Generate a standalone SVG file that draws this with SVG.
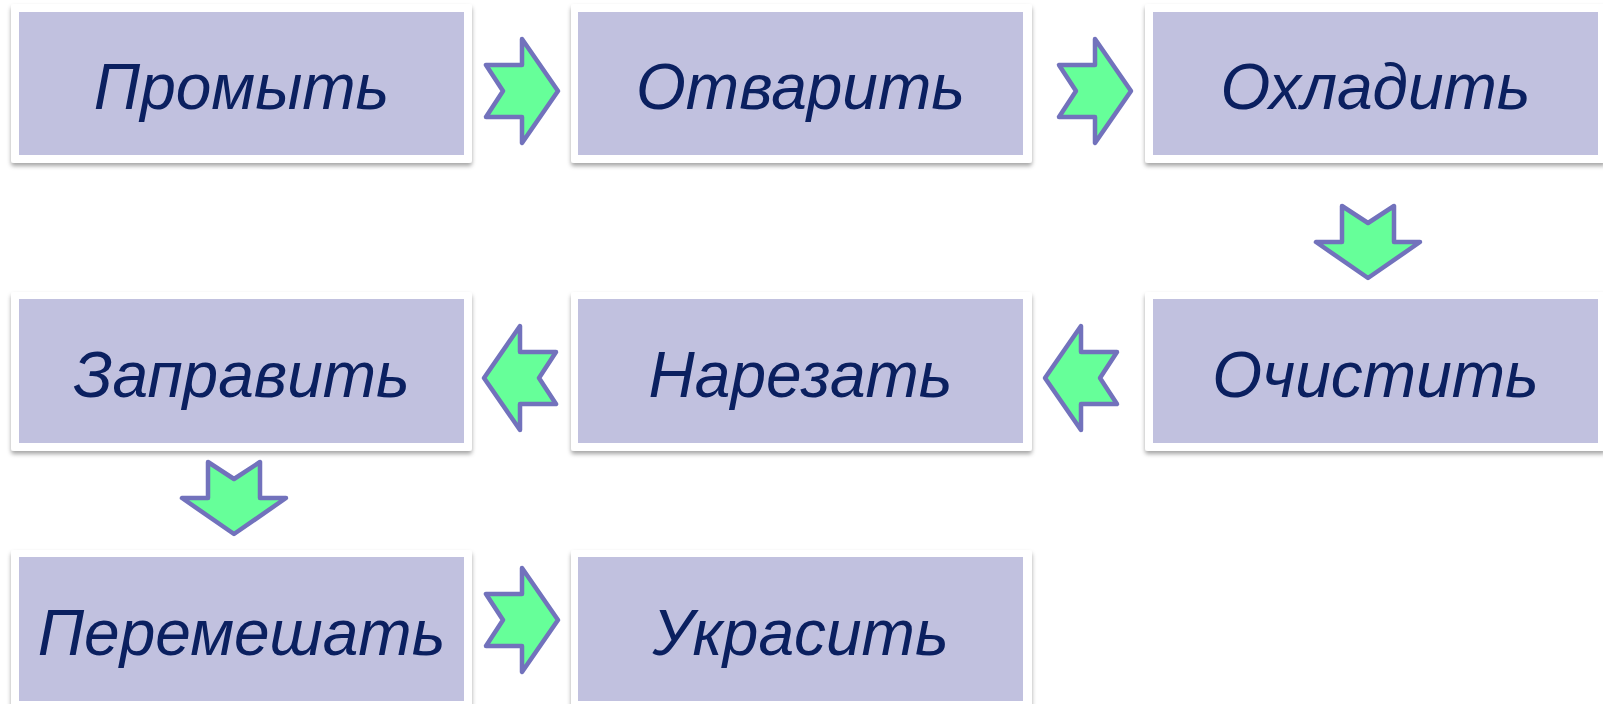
<svg xmlns="http://www.w3.org/2000/svg" width="1603" height="704" viewBox="0 0 1603 704">
<style>
.outer{fill:#ffffff;filter:url(#sh)}
.inner{fill:#c1c1df}
.lbl{font-family:"Liberation Sans",Arial,sans-serif;font-style:italic;font-size:64px;fill:#0b2060;text-anchor:middle}
.arrow{fill:#66ff99;stroke:#7272bc;stroke-width:4.5;stroke-linejoin:round}
</style>
<defs>
<filter id="sh" x="-5%" y="-10%" width="110%" height="125%">
<feDropShadow dx="0" dy="3" stdDeviation="2" flood-color="#000" flood-opacity="0.35"/>
</filter>
<path id="arr" d="M-36,-26 L0,-26 L0,-52 L36,0 L0,52 L0,26 L-36,26 L-19,0 Z"/>
</defs>
<rect width="1603" height="704" fill="#ffffff"/>
<g id="n1"><rect class="outer" x="11" y="4" width="461" height="159" rx="3"/><rect class="inner" x="19" y="12" width="445" height="143"/><text class="lbl" x="241.5" y="109">Промыть</text></g>
<g id="n2"><rect class="outer" x="571" y="4" width="461" height="159" rx="3"/><rect class="inner" x="578" y="12" width="445" height="143"/><text class="lbl" x="800.5" y="109">Отварить</text></g>
<g id="n3"><rect class="outer" x="1145" y="4" width="461" height="159" rx="3"/><rect class="inner" x="1153" y="12" width="445" height="143"/><text class="lbl" x="1375.5" y="109">Охладить</text></g>
<g id="n4"><rect class="outer" x="1145" y="292" width="461" height="159" rx="3"/><rect class="inner" x="1153" y="299" width="445" height="144"/><text class="lbl" x="1375.5" y="397">Очистить</text></g>
<g id="n5"><rect class="outer" x="571" y="292" width="461" height="159" rx="3"/><rect class="inner" x="578" y="299" width="445" height="144"/><text class="lbl" x="800.5" y="397">Нарезать</text></g>
<g id="n6"><rect class="outer" x="11" y="292" width="461" height="159" rx="3"/><rect class="inner" x="19" y="299" width="445" height="144"/><text class="lbl" x="241.5" y="397">Заправить</text></g>
<g id="n7"><rect class="outer" x="11" y="550" width="461" height="159" rx="3"/><rect class="inner" x="19" y="557" width="445" height="144"/><text class="lbl" x="241.5" y="655">Перемешать</text></g>
<g id="n8"><rect class="outer" x="571" y="550" width="461" height="159" rx="3"/><rect class="inner" x="578" y="557" width="445" height="144"/><text class="lbl" x="800.5" y="655">Украсить</text></g>
<g id="connectors">
<use href="#arr" class="arrow" transform="translate(522,91)"/>
<use href="#arr" class="arrow" transform="translate(1095,91)"/>
<use href="#arr" class="arrow" transform="translate(1368,242) rotate(90)"/>
<use href="#arr" class="arrow" transform="translate(1081,378) rotate(180)"/>
<use href="#arr" class="arrow" transform="translate(520,378) rotate(180)"/>
<use href="#arr" class="arrow" transform="translate(234,498) rotate(90)"/>
<use href="#arr" class="arrow" transform="translate(522,620)"/>
</g>
</svg>
